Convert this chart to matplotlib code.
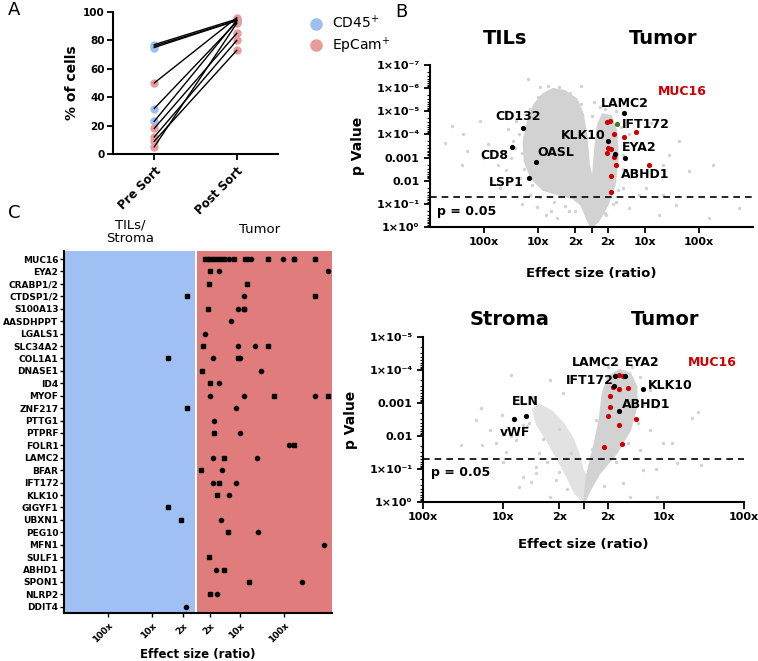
import numpy as np
import matplotlib.pyplot as plt
from matplotlib.patches import Polygon
from matplotlib.lines import Line2D

W, H = 758, 661

# ---- panel A: % of cells before / after sort ----
sort_labels = ["Pre Sort", "Post Sort"]
pre_cd45 = [77, 76, 75, 32, 23]
post_cd45 = [95, 94, 94, 93, 94]
pre_epcam = [50, 18, 12, 9, 5]
post_epcam = [96, 85, 80, 73, 92]

# ---- panel B top: TILs vs Tumor (x = signed log10 ratio, y = -log10 p) ----
tils_cloud_x = [-0.01, 0.12, 0.30, 0.43, 0.49, 0.46, 0.36, 0.21, 0.12, 0.07, 0.02, -0.05, -0.09, -0.16,
                -0.28, -0.50, -0.72, -0.90, -1.06, -1.18, -1.26, -1.24, -1.12, -0.90, -0.59, -0.35, -0.19, -0.10]
tils_cloud_y = [0.0, 0.23, 0.96, 1.83, 2.99, 4.14, 4.80, 4.87, 4.43, 3.42, 1.97, 2.70, 3.86, 4.87,
                5.52, 5.88, 5.96, 5.74, 5.30, 4.58, 3.71, 2.84, 2.12, 1.61, 1.39, 1.25, 0.96, 0.45]
tils_gray_x = [-1.18, -2.60, -2.72, -2.38, -2.32, -1.92, -2.01, -1.73, -1.58, -1.43, -1.55, -1.33, -1.02,
               -0.84, -0.41, 0.46, 0.70, 0.89, 1.01, 1.32, 1.44, 1.63, 1.81, 2.19, 0.95, 0.70, 1.32, 2.25,
               1.11, -2.07, -2.41, -1.70, -0.65, -1.15, -0.96, -1.58, -1.46, 0.58, 0.27, 1.57, 1.26, 0.58,
               0.83, 2.74, -1.30, -0.75, 0.15, 0.05, -0.20,
               -1.35, -1.30, -1.25, -1.10, -0.95, -0.70, -0.50, -0.30, -1.00, -0.80, -0.60, -0.40, -0.20,
               0.00, 0.25, 0.45, 0.55, 0.60, 0.58, 0.50, 0.40, 0.25, -1.40, -1.50, -1.15, 0.05, -0.05]
tils_gray_y = [6.39, 4.36, 3.64, 4.00, 3.27, 3.57, 2.99, 2.70, 2.48, 3.42, 4.22, 2.12, 0.88, 0.52, 0.67,
               1.10, 0.81, 1.39, 1.68, 2.70, 3.13, 3.71, 2.40, 0.38, 3.42, 4.00, 1.39, 2.70, 4.51, 4.58,
               2.70, 1.68, 0.38, 1.39, 6.03, 5.01, 3.71, 1.68, 0.52, 0.96, 0.52, 3.13, 2.40, 0.83, 1.00,
               0.70, 5.20, 5.40, 6.10,
               4.00, 3.20, 2.50, 1.80, 1.30, 1.10, 0.90, 0.70, 5.60, 6.10, 6.05, 5.80, 5.30,
               4.80, 5.10, 5.00, 4.30, 3.50, 2.50, 1.60, 1.00, 0.60, 4.60, 3.00, 5.10, 0.90, 1.60]
tils_red_x = [0.29, 0.35, 0.41, 0.61, 0.83, 0.31, 0.36, 0.29, 0.41, 0.46, 0.36, 0.36, 1.07]
tils_red_y = [4.54, 4.58, 4.04, 3.90, 4.10, 3.43, 3.38, 3.19, 3.04, 2.67, 2.19, 1.53, 2.67]
tils_black_x = [0.61, 0.31, 0.44, 0.62, -1.28, -1.47, -1.04, -1.17]
tils_black_y = [4.91, 3.71, 3.16, 2.96, 4.29, 3.45, 2.83, 2.12]
tils_green_x = [0.48]
tils_green_y = [4.46]
tils_genes = ["LAMC2", "IFT172", "KLK10", "EYA2", "ABHD1", "CD132", "CD8", "OASL", "LSP1"]
tils_gene_x = [0.61, 0.57, 0.26, 0.56, 0.54, -1.37, -1.80, -0.67, -1.59]
tils_gene_y = [5.35, 4.43, 3.96, 3.43, 2.26, 4.78, 3.09, 3.22, 1.91]
tils_gene_ha = ["center", "left", "right", "left", "left", "center", "center", "center", "center"]

# ---- panel B bottom: Stroma vs Tumor ----
stroma_cloud_x = [0.01, 0.08, 0.20, 0.41, 0.58, 0.66, 0.66, 0.58, 0.45, 0.31, 0.24, 0.20, 0.14, 0.08, 0.04]
stroma_cloud_y = [0.0, 0.36, 0.87, 1.48, 2.18, 2.89, 3.49, 3.90, 4.00, 3.80, 3.29, 2.48, 1.78, 1.17, 0.77]
stroma_lobe_x = [0.04, -0.01, -0.06, -0.14, -0.26, -0.40, -0.55, -0.63, -0.58, -0.45, -0.32, -0.20, -0.10, 0.01]
stroma_lobe_y = [0.77, 0.97, 1.45, 1.95, 2.40, 2.75, 2.95, 2.80, 2.35, 1.85, 1.30, 0.75, 0.25, 0.0]
stroma_gray_x = [-0.90, -0.42, -0.63, -1.28, -1.34, -1.17, -1.01, -1.09, -1.26, -0.84, -0.76, -0.97, -0.59,
                 -0.76, -0.34, -0.42, -0.80, 0.83, 0.91, 0.83, 0.70, 0.99, 1.43, 1.35, 0.74, 0.49, 0.91,
                 0.58, 1.16, -1.53, -0.59, -0.55, 1.46, -0.68, -0.25,
                 -0.60, -0.70, -0.50, -0.45, -0.30, -0.20, -0.15, -0.30, 0.70, 0.75, 0.68, 0.55, 0.40,
                 0.25, 0.30, 0.60, 0.15, 0.10, -0.90, -1.00, -0.65, 0.90, 1.10]
stroma_gray_y = [3.85, 3.70, 3.19, 2.84, 2.48, 2.18, 2.64, 1.78, 1.73, 1.88, 2.33, 1.53, 1.07, 0.77, 0.67,
                 0.16, 0.46, 3.39, 2.89, 2.18, 1.58, 1.78, 2.74, 2.54, 0.97, 0.57, 0.16, 0.16, 1.17, 1.73,
                 0.87, 1.48, 1.12, 2.40, 3.30,
                 3.00, 2.30, 1.90, 1.20, 0.90, 0.40, 1.50, 2.20, 3.80, 3.00, 2.40, 1.80, 1.20,
                 0.50, 4.10, 4.10, 2.50, 1.60, 2.00, 1.20, 0.60, 1.00, 1.80]
stroma_red_x = [0.44, 0.49, 0.37, 0.44, 0.55, 0.33, 0.33, 0.31, 0.66, 0.44, 0.26, 0.48]
stroma_red_y = [3.85, 3.83, 3.47, 3.41, 3.45, 3.21, 2.89, 2.61, 2.52, 2.32, 1.67, 1.75]
stroma_black_x = [0.39, 0.52, 0.38, 0.74, 0.44, -0.72, -0.86]
stroma_black_y = [3.83, 3.83, 3.52, 3.42, 2.76, 2.61, 2.51]
stroma_genes = ["LAMC2", "EYA2", "IFT172", "KLK10", "ABHD1", "ELN", "vWF"]
stroma_gene_x = [0.15, 0.73, 0.08, 1.08, 0.78, -0.72, -0.85]
stroma_gene_y = [4.23, 4.23, 3.67, 3.52, 2.94, 3.06, 2.10]

# ---- panel C: effect size per gene ----
genes_c = ["MUC16", "EYA2", "CRABP1/2", "CTDSP1/2", "S100A13", "AASDHPPT", "LGALS1", "SLC34A2",
           "COL1A1", "DNASE1", "ID4", "MYOF", "ZNF217", "PTTG1", "PTPRF", "FOLR1", "LAMC2", "BFAR",
           "IFT172", "KLK10", "GIGYF1", "UBXN1", "PEG10", "MFN1", "SULF1", "ABHD1", "SPON1", "NLRP2",
           "DDIT4"]
sq_gene = ["MUC16"] * 9 + ["EYA2", "CRABP1/2", "CRABP1/2", "CTDSP1/2", "CTDSP1/2", "S100A13", "S100A13",
           "SLC34A2", "SLC34A2", "COL1A1", "COL1A1", "DNASE1", "ID4", "MYOF", "MYOF", "ZNF217",
           "PTPRF", "FOLR1", "LAMC2", "BFAR", "IFT172", "KLK10", "GIGYF1", "UBXN1", "PEG10",
           "SULF1", "ABHD1", "SPON1", "NLRP2"]
sq_effect = [0.19, 0.31, 0.44, 0.59, 0.85, 1.10, 1.63, 2.22, 2.69,
             0.32, 0.28, 1.16, -0.20, 2.69, 0.27, 1.08, 0.16, 1.62, -0.65, 0.95, 0.12, 0.32, 1.77, 3.0,
             -0.20, 0.40, 2.22, 0.62, 0.10, 0.51, 0.46, -0.65, -0.34, 0.72, 0.29, 0.63, 1.19, 0.32]
ci_gene = ["MUC16"] * 9 + ["EYA2", "EYA2", "CTDSP1/2", "S100A13", "S100A13", "AASDHPPT", "LGALS1",
           "SLC34A2", "SLC34A2", "COL1A1", "COL1A1", "DNASE1", "ID4", "MYOF", "MYOF", "MYOF", "ZNF217",
           "PTTG1", "PTPRF", "FOLR1", "LAMC2", "LAMC2", "BFAR", "IFT172", "IFT172", "KLK10", "UBXN1",
           "PEG10", "MFN1", "ABHD1", "SPON1", "NLRP2", "DDIT4"]
ci_effect = [0.27, 0.37, 0.52, 0.66, 0.74, 1.18, 1.24, 1.96, 2.22,
             0.52, 3.0, 1.09, 0.95, 1.08, 0.78, 0.19, 0.95, 1.33, 0.38, 0.99, 1.46, 0.52, 0.31, 1.09,
             2.69, 0.91, 0.40, 0.99, 2.10, 0.38, 1.37, 0.59, 0.37, 0.91, 0.75, 0.56, 1.39, 2.90, 0.44,
             2.40, 0.48, -0.24]

ratio_ticks = [-2, -1, -np.log10(2), np.log10(2), 1, 2]
ratio_labels = ["100x", "10x", "2x", "2x", "10x", "100x"]

blue = "#9ebdf1"
red_dot = "#e89b9b"
gray = "#d2d2d2"


def box(l, t, r, b):
    return [l / W, 1 - b / H, (r - l) / W, (b - t) / H]


def fxy(x, y):
    return x / W, 1 - y / H


def style(ax):
    for s in ["top", "right"]:
        ax.spines[s].set_visible(False)
    for s in ["left", "bottom"]:
        ax.spines[s].set_linewidth(1.5)
    ax.tick_params(width=1.3, length=4, labelsize=8)
    for t in ax.get_xticklabels() + ax.get_yticklabels():
        t.set_fontweight("bold")


fig = plt.figure(figsize=(W / 100, H / 100), dpi=100)

# ---------------- A ----------------
ax_a = fig.add_axes(box(113, 12, 278, 154))
for p, q in zip(pre_cd45, post_cd45):
    ax_a.plot([0, 1], [p, q], color="black", lw=1, zorder=3)
for p, q in zip(pre_epcam, post_epcam):
    ax_a.plot([0, 1], [p, q], color="black", lw=1, zorder=3)
ax_a.plot([0] * len(pre_cd45), pre_cd45, "o", color=blue, ms=5, zorder=2)
ax_a.plot([1] * len(post_cd45), post_cd45, "o", color=blue, ms=5, zorder=2)
ax_a.plot([0] * len(pre_epcam), pre_epcam, "o", color=red_dot, ms=5, zorder=2)
ax_a.plot([1] * len(post_epcam), post_epcam, "o", color=red_dot, ms=5, zorder=2)
ax_a.set_xlim(-0.5, 1.5)
ax_a.set_ylim(0, 100)
ax_a.set_yticks([0, 20, 40, 60, 80, 100])
ax_a.set_xticks([0, 1])
ax_a.set_xticklabels(sort_labels, rotation=45, ha="right", rotation_mode="anchor")
ax_a.set_ylabel("% of cells", fontsize=10, fontweight="bold", labelpad=3)
style(ax_a)
ax_a.tick_params(axis="x", labelsize=8.5)
ax_a.tick_params(axis="y", labelsize=7.5, pad=2)
handles = [Line2D([], [], marker="o", ls="", color=blue, ms=8, label="CD45$^{+}$"),
           Line2D([], [], marker="o", ls="", color=red_dot, ms=8, label="EpCam$^{+}$")]
ax_a.legend(handles=handles, loc="upper left", bbox_to_anchor=fxy(290, 2), bbox_transform=fig.transFigure,
            frameon=False, fontsize=10, handletextpad=0.1, labelspacing=0.25)


# ---------------- B ----------------
def volcano(ax, ytop, xl):
    ax.axhline(-np.log10(0.05), color="black", ls=(0, (4, 3)), lw=1.2, zorder=1)
    ax.set_xlim(-xl, xl)
    ax.set_ylim(0, ytop)
    ax.set_xticks(ratio_ticks + [0])
    ax.set_xticklabels(ratio_labels + [""])
    ylabels = []
    for n in range(ytop + 1):
        if n == 2:
            ylabels.append("0.01")
        elif n == 3:
            ylabels.append("0.001")
        elif n == 0:
            ylabels.append("1×10⁰")
        else:
            ylabels.append("1×10⁻" + "⁰¹²³⁴⁵⁶⁷⁸⁹"[n])
    ax.set_yticks(range(ytop + 1))
    ax.set_yticklabels(ylabels)
    ax.set_yticks([n + 1 - np.log10(k) for n in range(ytop) for k in range(2, 10)], minor=True)
    ax.tick_params(axis="y", which="minor", length=2, width=0.8)
    ax.set_xlabel("Effect size (ratio)", fontsize=9.5, fontweight="bold", labelpad=12)
    ax.set_ylabel("p Value", fontsize=10, fontweight="bold", labelpad=8)
    style(ax)


ax_t = fig.add_axes(box(430, 65, 753, 227))
ax_t.add_patch(Polygon(np.column_stack([tils_cloud_x, tils_cloud_y]), closed=True, fc=gray, ec=gray, lw=1.5, zorder=1))
ax_t.scatter(tils_gray_x, tils_gray_y, s=6, color=gray, lw=0, zorder=1)
ax_t.scatter(tils_red_x, tils_red_y, s=14, color="#cc0000", lw=0, zorder=3)
ax_t.scatter(tils_black_x, tils_black_y, s=14, color="black", lw=0, zorder=3)
ax_t.scatter(tils_green_x, tils_green_y, s=14, color="#3a7a2a", lw=0, zorder=3)
for g, x, y, ha in zip(tils_genes, tils_gene_x, tils_gene_y, tils_gene_ha):
    ax_t.text(x, y, g, ha=ha, va="center", fontsize=9, fontweight="bold", zorder=4)
ax_t.text(1.69, 5.87, "MUC16", color="#cc0000", ha="center", va="center", fontsize=9, fontweight="bold")
ax_t.text(-2.87, 0.65, "p = 0.05", ha="left", va="center", fontsize=9, fontweight="bold")
volcano(ax_t, 7, 3)
ax_t.xaxis.labelpad = 14
fig.text(*fxy(505, 38), "TILs", ha="center", va="center", fontsize=14, fontweight="bold")
fig.text(*fxy(663, 38), "Tumor", ha="center", va="center", fontsize=14, fontweight="bold")

ax_s = fig.add_axes(box(423, 337, 744, 502))
ax_s.add_patch(Polygon(np.column_stack([stroma_lobe_x, stroma_lobe_y]), closed=True, fc="#e2e2e2", ec="#e2e2e2", lw=1.5, zorder=1))
ax_s.add_patch(Polygon(np.column_stack([stroma_cloud_x, stroma_cloud_y]), closed=True, fc=gray, ec=gray, lw=1.5, zorder=1))
ax_s.scatter(stroma_gray_x, stroma_gray_y, s=6, color=gray, lw=0, zorder=1)
ax_s.scatter(stroma_red_x, stroma_red_y, s=14, color="#cc0000", lw=0, zorder=3)
ax_s.scatter(stroma_black_x, stroma_black_y, s=14, color="black", lw=0, zorder=3)
for g, x, y in zip(stroma_genes, stroma_gene_x, stroma_gene_y):
    ax_s.text(x, y, g, ha="center", va="center", fontsize=9, fontweight="bold", zorder=4)
ax_s.text(1.61, 4.23, "MUC16", color="#cc0000", ha="center", va="center", fontsize=9, fontweight="bold")
ax_s.text(-1.90, 0.89, "p = 0.05", ha="left", va="center", fontsize=9, fontweight="bold")
volcano(ax_s, 5, 2)
ax_s.tick_params(axis="x", length=5, pad=2)
fig.text(*fxy(510, 319), "Stroma", ha="center", va="center", fontsize=14, fontweight="bold")
fig.text(*fxy(665, 319), "Tumor", ha="center", va="center", fontsize=14, fontweight="bold")

# ---------------- C ----------------
ax_c = fig.add_axes(box(64, 251, 332, 613))
ax_c.axvspan(-3, -0.02, color="#a0bff2", lw=0, zorder=0)
ax_c.axvspan(0.02, 3.08, color="#e07c7c", lw=0, zorder=0)
ax_c.plot(sq_effect, [genes_c.index(g) for g in sq_gene], "s", color="black", ms=3, ls="")
ax_c.plot(ci_effect, [genes_c.index(g) for g in ci_gene], "o", color="black", ms=3, ls="")
ax_c.set_xlim(-3, 3.08)
ax_c.set_ylim(28.5, -0.65)
ax_c.set_yticks(range(len(genes_c)))
ax_c.set_yticklabels(genes_c)
ax_c.set_xticks(ratio_ticks)
ax_c.set_xticklabels(ratio_labels, rotation=45, ha="right", rotation_mode="anchor")
style(ax_c)
ax_c.tick_params(axis="y", labelsize=6.5, length=3, width=1, pad=1)
ax_c.tick_params(axis="x", labelsize=6.5, length=3, width=1, pad=3)
ax_c.set_xlabel("Effect size (ratio)", fontsize=8.5, fontweight="bold", labelpad=2)
fig.text(*fxy(130, 232), "TILs/\nStroma", ha="center", va="center", fontsize=9.5, linespacing=1.1)
fig.text(*fxy(260, 229), "Tumor", ha="center", va="center", fontsize=9.5)

fig.text(*fxy(8, 10), "A", fontsize=13, va="center")
fig.text(*fxy(395, 12), "B", fontsize=13, va="center")
fig.text(*fxy(8, 213), "C", fontsize=13, va="center")

plt.savefig("out.png", dpi=100)
